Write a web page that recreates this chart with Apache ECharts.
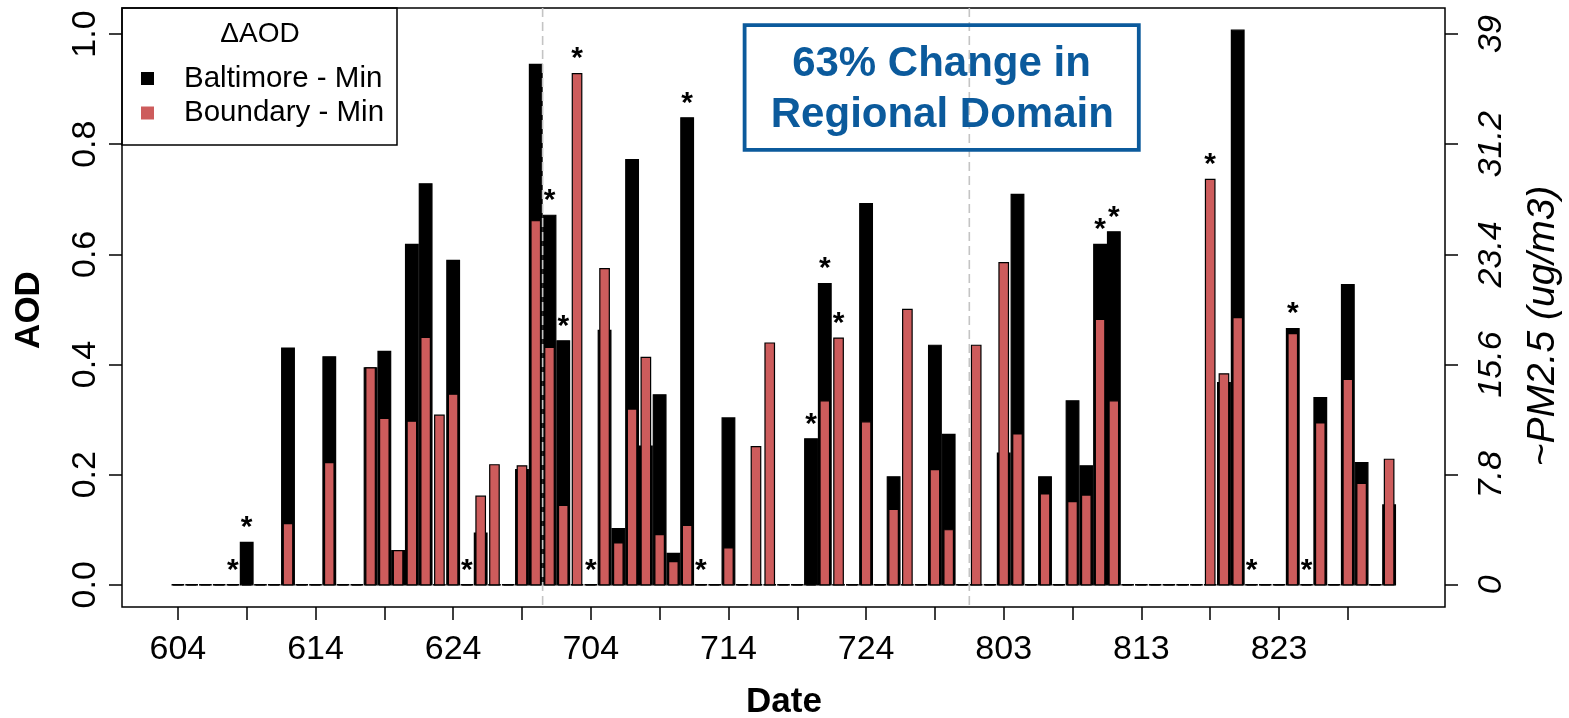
<!DOCTYPE html>
<html>
<head>
<meta charset="utf-8">
<script src="https://cdn.jsdelivr.net/npm/echarts@6/dist/echarts.min.js"></script>
<style>
  html, body { margin: 0; padding: 0; background: #fff; }
  #chart { width: 1569px; height: 718px; }
</style>
</head>
<body>
<div id="chart"></div>
<script>
// Daily AOD differences, 4 June (index 0) through 31 August (index 88)
const dayTickLabels = ['604', '614', '624', '704', '714', '724', '803', '813', '823'];

const baltimoreMin = [
  0, 0, 0, 0, 0, 0.077, 0, 0, 0.430, 0, 0, 0.414, 0, 0, 0.394, 0.424, 0.062, 0.618, 0.728, 0,
  0.589, 0, 0.094, 0, 0, 0.209, 0.945, 0.671, 0.443, 0, 0, 0.462, 0.102, 0.772, 0.252, 0.345, 0.057, 0.848, 0, 0,
  0.303, 0, 0, 0, 0, 0, 0.265, 0.547, 0, 0, 0.692, 0, 0.196, 0, 0, 0.435, 0.273, 0, 0, 0,
  0.239, 0.709, 0, 0.196, 0, 0.334, 0.216, 0.618, 0.641, 0, 0, 0, 0, 0, 0, 0, 0.367, 1.007, 0, 0,
  0, 0.465, 0, 0.340, 0, 0.545, 0.222, 0, 0.145
];

const boundaryMin = [
  0, 0, 0, 0, 0, 0, 0, 0, 0.111, 0, 0, 0.222, 0, 0, 0.394, 0.302, 0.062, 0.297, 0.449, 0.308,
  0.346, 0, 0.161, 0.218, 0, 0.216, 0.661, 0.431, 0.144, 0.928, 0, 0.574, 0.076, 0.319, 0.413, 0.091, 0.042, 0.108, 0, 0,
  0.067, 0, 0.251, 0.439, 0, 0, 0, 0.334, 0.448, 0, 0.296, 0, 0.137, 0.500, 0, 0.209, 0.100, 0, 0.435, 0,
  0.585, 0.274, 0, 0.165, 0, 0.151, 0.163, 0.482, 0.334, 0, 0, 0, 0, 0, 0, 0.736, 0.383, 0.485, 0, 0,
  0, 0.456, 0, 0.294, 0, 0.373, 0.184, 0, 0.228
];

// Days marked with an asterisk
const flaggedDays = [4, 5, 21, 27, 28, 29, 30, 37, 38, 46, 47, 48, 67, 68, 75, 78, 81, 82];

// Month boundaries (between 30 Jun / 1 Jul and 31 Jul / 1 Aug)
const monthBreaks = [26.5, 57.5];

const aodTicks = [0, 0.2, 0.4, 0.6, 0.8, 1.0];
const pmTickLabels = ['0', '7.8', '15.6', '23.4', '31.2', '39'];
const PM_PER_AOD = 39;

const FONT = '"Liberation Sans", Arial, Helvetica, sans-serif';
const BLUE = '#0b5a9c';
const RED = '#cd5c5c';

const nDays = baltimoreMin.length;
const maxVal = Math.max(...baltimoreMin, ...boundaryMin);
const Y_MIN = -0.04 * maxVal;
const Y_MAX = maxVal * 1.04;
const X_MIN = -0.5 - 0.04 * nDays;
const X_MAX = nDays - 0.5 + 0.04 * nDays;

function barItem(width, fill) {
  return function (params, api) {
    const x = api.value(0);
    const v = api.value(1);
    const a = api.coord([x - width / 2, 0]);
    const b = api.coord([x + width / 2, v]);
    if (v === 0) {
      return {
        type: 'line',
        shape: { x1: a[0], y1: a[1], x2: b[0], y2: a[1] },
        style: { stroke: '#000', lineWidth: 1.6 }
      };
    }
    return {
      type: 'rect',
      shape: { x: a[0], y: b[1], width: b[0] - a[0], height: a[1] - b[1] },
      style: { fill: fill, stroke: '#000', lineWidth: 1.2 }
    };
  };
}

const chart = echarts.init(document.getElementById('chart'), null, { renderer: 'canvas' });

const tickLabelStyle = { fontFamily: FONT, fontSize: 34, color: '#000' };

chart.setOption({
  animation: false,
  backgroundColor: '#fff',
  grid: {
    left: 122, right: 124, top: 8, bottom: 111,
    show: true, borderColor: '#000', borderWidth: 1.5, backgroundColor: 'transparent'
  },
  legend: {
    orient: 'vertical',
    left: 141,
    top: 62,
    padding: 0,
    itemGap: 1.5,
    itemWidth: 13,
    itemHeight: 13,
    selectedMode: false,
    icon: 'rect',
    itemStyle: { borderWidth: 0 },
    textStyle: { fontFamily: FONT, fontSize: 29.5, lineHeight: 30, color: '#000', padding: [3, 0, 0, 25] },
    data: ['Baltimore - Min', 'Boundary - Min']
  },
  xAxis: {
    type: 'value',
    min: X_MIN,
    max: X_MAX,
    axisLine: { show: false, onZero: false },
    splitLine: { show: false },
    axisTick: {
      show: true, length: 13, inside: false,
      lineStyle: { color: '#000', width: 1.5 },
      customValues: Array.from({ length: 18 }, (_, k) => k * 5)
    },
    axisLabel: {
      ...tickLabelStyle,
      margin: 26,
      customValues: dayTickLabels.map((_, k) => k * 10),
      formatter: v => dayTickLabels[Math.round(v / 10)]
    }
  },
  yAxis: [
    {
      type: 'value',
      position: 'left',
      min: Y_MIN,
      max: Y_MAX,
      axisLine: { show: false, onZero: false },
      splitLine: { show: false },
      axisTick: {
        show: true, length: 13,
        lineStyle: { color: '#000', width: 1.5 },
        customValues: aodTicks
      },
      axisLabel: {
        ...tickLabelStyle,
        rotate: 90,
        margin: 19,
        customValues: aodTicks,
        formatter: v => v.toFixed(1)
      }
    },
    {
      type: 'value',
      position: 'right',
      min: Y_MIN * PM_PER_AOD,
      max: Y_MAX * PM_PER_AOD,
      axisLine: { show: false, onZero: false },
      splitLine: { show: false },
      axisTick: {
        show: true, length: 13,
        lineStyle: { color: '#000', width: 1.5 },
        customValues: aodTicks.map(t => t * PM_PER_AOD)
      },
      axisLabel: {
        ...tickLabelStyle,
        fontStyle: 'italic',
        rotate: 90,
        margin: 30,
        customValues: aodTicks.map(t => t * PM_PER_AOD),
        formatter: v => pmTickLabels[Math.round(v / (0.2 * PM_PER_AOD))]
      }
    }
  ],
  series: [
    {
      name: 'Baltimore - Min',
      type: 'custom',
      xAxisIndex: 0, yAxisIndex: 0,
      itemStyle: { color: '#000' },
      encode: { x: 0, y: 1 },
      data: baltimoreMin.map((v, i) => [i, v]),
      renderItem: barItem(0.92, '#000'),
      z: 2
    },
    {
      name: 'Boundary - Min',
      type: 'custom',
      xAxisIndex: 0, yAxisIndex: 0,
      itemStyle: { color: RED },
      encode: { x: 0, y: 1 },
      data: boundaryMin.map((v, i) => [i, v]),
      renderItem: barItem(0.69, RED),
      z: 3
    },
    {
      name: 'flags',
      type: 'custom',
      xAxisIndex: 0, yAxisIndex: 0,
      encode: { x: 0, y: 1 },
      data: flaggedDays.map(i => [i, Math.max(baltimoreMin[i], boundaryMin[i])]),
      renderItem: function (params, api) {
        const p = api.coord([api.value(0), api.value(1)]);
        return {
          type: 'text',
          x: p[0], y: p[1] - 14.5,
          style: { text: '*', fontFamily: FONT, fontWeight: 'bold', fontSize: 30, fill: '#000', align: 'center', verticalAlign: 'middle' }
        };
      },
      z: 4
    },
    {
      name: 'months',
      type: 'custom',
      xAxisIndex: 0, yAxisIndex: 0,
      encode: { x: 0 },
      data: monthBreaks.map(x => [x, 0]),
      renderItem: function (params, api) {
        const cs = params.coordSys;
        const p = api.coord([api.value(0), 0]);
        return {
          type: 'line',
          shape: { x1: p[0], y1: cs.y, x2: p[0], y2: cs.y + cs.height },
          style: { stroke: '#c4c4c4', lineWidth: 1.6, lineDash: [9, 5] }
        };
      },
      z: 5
    }
  ],
  graphic: [
    {
      type: 'rect', z: 10,
      shape: { x: 122, y: 8, width: 275, height: 137 },
      style: { fill: 'transparent', stroke: '#000', lineWidth: 1.5 }
    },
    {
      type: 'text', z: 10, x: 260, y: 34.5,
      style: { text: 'ΔAOD', fontFamily: FONT, fontSize: 28, fill: '#000', align: 'center', verticalAlign: 'middle' }
    },
    {
      type: 'rect', z: 10,
      shape: { x: 744.6, y: 25.2, width: 394.2, height: 124.6 },
      style: { fill: 'transparent', stroke: BLUE, lineWidth: 3.8 }
    },
    {
      type: 'text', z: 10, x: 941.5, y: 64,
      style: { text: '63% Change in', fontFamily: FONT, fontWeight: 'bold', fontSize: 42, fill: BLUE, align: 'center', verticalAlign: 'middle' }
    },
    {
      type: 'text', z: 10, x: 942.3, y: 115.5,
      style: { text: 'Regional Domain', fontFamily: FONT, fontWeight: 'bold', fontSize: 42, fill: BLUE, align: 'center', verticalAlign: 'middle' }
    },
    {
      type: 'text', z: 10, x: 784, y: 702,
      style: { text: 'Date', fontFamily: FONT, fontWeight: 'bold', fontSize: 35, fill: '#000', align: 'center', verticalAlign: 'middle' }
    },
    {
      type: 'text', z: 10, x: 29, y: 310, rotation: Math.PI / 2,
      style: { text: 'AOD', fontFamily: FONT, fontWeight: 'bold', fontSize: 35, fill: '#000', align: 'center', verticalAlign: 'middle' }
    },
    {
      type: 'text', z: 10, x: 1543, y: 326, rotation: Math.PI / 2,
      style: { text: '~PM2.5 (ug/m3)', fontFamily: FONT, fontStyle: 'italic', fontSize: 39, fill: '#000', align: 'center', verticalAlign: 'middle' }
    }
  ]
});
</script>
</body>
</html>
